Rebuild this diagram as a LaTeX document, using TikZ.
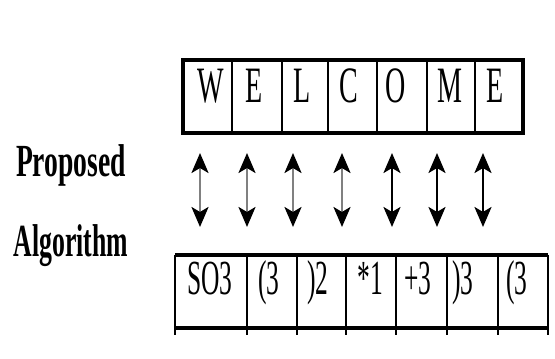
\documentclass[tikz,border=0pt]{standalone}
\usepackage{fontspec}
\setmainfont{Liberation Serif}
\usetikzlibrary{arrows.meta}
\newcommand{\narrowtxt}[2]{\scalebox{#1}[1]{#2}}
\tikzset{
  toplet/.style={inner sep=0pt, anchor=base, font=\fontsize{51}{51}\selectfont},
  botlet/.style={inner sep=0pt, anchor=base, font=\fontsize{49}{49}\selectfont},
  sidelab/.style={inner sep=0pt, anchor=base, font=\bfseries\fontsize{46}{46}\selectfont},
  thickline/.style={line width=4pt},
  divline/.style={line width=2.8pt},
  greyarr/.style={line width=2.6pt, draw=black!50,
    arrows={Stealth[length=20pt,width=17pt,inset=5pt,color=black]-Stealth[length=20pt,width=17pt,inset=5pt,color=black]}},
  blackarr/.style={line width=2.6pt, draw=black,
    arrows={Stealth[length=20pt,width=17pt,inset=5pt]-Stealth[length=20pt,width=17pt,inset=5pt]}}
}
\begin{document}
\begin{tikzpicture}[x=1pt,y=1pt]
\useasboundingbox (0,0) rectangle (555,359);
% top table
\draw[thickline] (183,299) rectangle (523,226);
\foreach \x in {232,282,328,377,427,475} \draw[divline] (\x,299) -- (\x,226);
\node[toplet] (t1) at (211,256) {\narrowtxt{0.55}{W}};
\node[toplet] (t2) at (254,256) {\narrowtxt{0.55}{E}};
\node[toplet] (t3) at (302,256) {\narrowtxt{0.55}{L}};
\node[toplet] (t4) at (349,256) {\narrowtxt{0.55}{C}};
\node[toplet] (t5) at (396,256) {\narrowtxt{0.55}{O}};
\node[toplet] (t6) at (450,256) {\narrowtxt{0.55}{M}};
\node[toplet] (t7) at (495,256) {\narrowtxt{0.55}{E}};
% bottom table
\draw[thickline] (175,104) -- (548,104);
\draw[thickline] (175,31) -- (548,31);
\foreach \x in {175,247,297,346,396,447,498,548} \draw[divline] (\x,104) -- (\x,24);
\node[botlet] (b1) at (210,64) {\narrowtxt{0.52}{SO3}};
\node[botlet] (b2) at (269,64) {\narrowtxt{0.52}{(3}};
\node[botlet] (b3) at (318,64) {\narrowtxt{0.52}{)2}};
\node[botlet] (b4) at (370,64) {\narrowtxt{0.52}{*1}};
\node[botlet] (b5) at (418,64) {\narrowtxt{0.52}{+3}};
\node[botlet] (b6) at (463,64) {\narrowtxt{0.52}{)3}};
\node[botlet] (b7) at (517,64) {\narrowtxt{0.52}{(3}};
% side labels
\node[sidelab] (p) at (71,182) {\narrowtxt{0.6}{Proposed}};
\node[sidelab] (a) at (71,102) {\narrowtxt{0.56}{Algorithm}};
% arrows
\foreach \i/\x in {1/200,2/247,3/293,4/342,5/392,6/437,7/483} {
  \coordinate (u\i) at (\x,206);
  \coordinate (d\i) at (\x,132);
}
\foreach \i in {1,2,3,4} \draw[greyarr] (u\i) -- (d\i);
\foreach \i in {5,6,7} \draw[blackarr] (u\i) -- (d\i);
\end{tikzpicture}
\end{document}
